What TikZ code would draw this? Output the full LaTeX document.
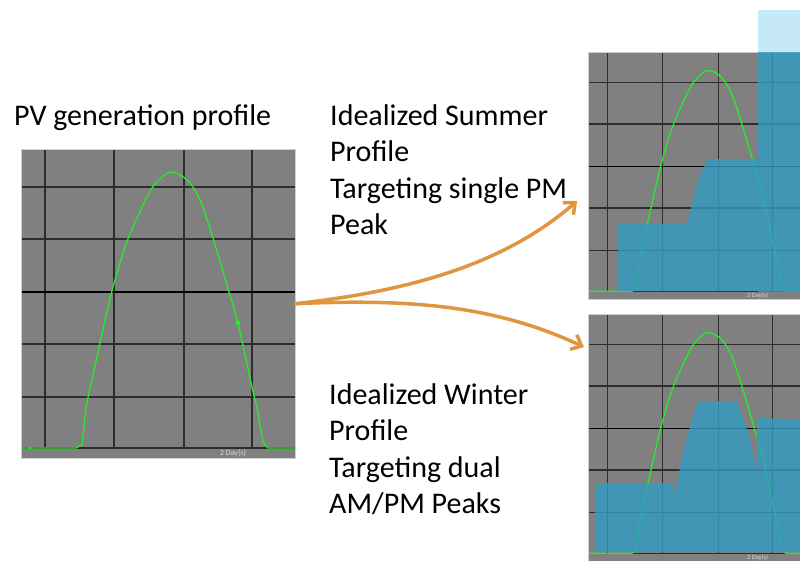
\documentclass[tikz,border=0pt]{standalone}
\usepackage{fontspec}
\setmainfont{Carlito}
\usetikzlibrary{arrows.meta}
\definecolor{chartgray}{RGB}{128,128,128}
\definecolor{gridcol}{RGB}{45,45,45}
\definecolor{pvgreen}{RGB}{40,235,40}
\definecolor{loadblue}{RGB}{49,156,194}
\definecolor{lightload}{RGB}{198,233,248}
\definecolor{flowor}{RGB}{224,150,62}
\definecolor{framecol}{RGB}{205,205,205}
\tikzset{
  gridline/.style={draw=gridcol, line width=1.3pt},
  midline/.style={draw=black, line width=1.3pt},
  pvcurve/.style={draw=pvgreen, line width=1.3pt, line join=round},
  chartframe/.style={draw=framecol, line width=0.8pt},
  daylabel/.style={font=\fontsize{8}{9}\selectfont, text=white!85!black, inner sep=0pt, transform shape},
  loadfill/.style={fill=loadblue, fill opacity=0.8},
  lightfill/.style={fill=lightload},
  flowarrow/.style={draw=flowor, line width=3.5pt, line cap=round, -{Straight Barb[length=9pt,width=16pt]}},
  captext/.style={font=\fontsize{30}{36.6}\selectfont, align=left, inner sep=0pt, anchor=north west},
  chartbox/.style={minimum width=274pt, minimum height=309pt, inner sep=0pt, anchor=north west, transform shape}
}
\newcommand{\pvchartbody}[1]{%
  \fill[chartgray] (0,0) rectangle (274,309);
  \foreach \gx in {24,93,163,231} \draw[gridline] (\gx,0) -- (\gx,299);
  \foreach \gy in {38,90,195,248,299} \draw[gridline] (0,\gy) -- (274,\gy);
  \draw[midline] (0,143) -- (274,143);
  \draw[pvcurve] (0,299) -- (55,299) -- (61,296) -- (65,258) -- plot[smooth, tension=0.55] coordinates {(65,258) (79,194) (92,138) (107,90) (126,48) (136,33) (150,23) (166,31) (179,51) (192,89) (208,143) (217,174) (231,238) (236,258)} -- (242,293) -- (247,299) -- (274,299);
  \fill[pvgreen] (217,174) circle (2.5pt);
  \fill[pvgreen] (9,299) circle (1.8pt);
  \node[daylabel] (#1days) at (212,304.5) {2 Day(s)};
  \draw[chartframe] (0,0) rectangle (274,309);
}
\begin{document}
\begin{tikzpicture}[x=1pt, y=-1pt]
\useasboundingbox (0,0) rectangle (800,560);
\fill[white] (0,0) rectangle (800,560);
\begin{scope}
\clip (0,0) rectangle (800,560);
% left chart
\node[chartbox] (pvchart) at (21,149) {};
\begin{scope}[shift={(21,149)}]
  \pvchartbody{pv}
\end{scope}
% summer chart
\fill[lightfill] (758,10) rectangle (800,52);
\begin{scope}[shift={(588,52)}, scale=0.8]
  \node[chartbox] (summerchart) at (0,0) {};
  \pvchartbody{summer}
\end{scope}
\fill[loadfill] (618,291) -- (618,224) -- (687,224) -- (698,180) -- (708,159) -- (758,159) -- (758,52) -- (800,52) -- (800,292) -- (758,292) -- (758,291) -- cycle;
% winter chart
\begin{scope}[shift={(588,314)}, scale=0.8]
  \node[chartbox] (winterchart) at (0,0) {};
  \pvchartbody{winter}
\end{scope}
\fill[loadfill] (595,552) -- (595,483) -- (673,483) -- (675,497) -- (681,462) -- (687,437) -- (698,401) -- (737,401) -- (748,432) -- (757,470) -- (757,418) -- (800,419) -- (800,552) -- cycle;
\end{scope}
% texts
\node[captext] (pvtitle) at (14,104) {PV generation profile};
\node[captext] (summertext) at (330,104) {Idealized Summer\\Profile\\Targeting single PM\\Peak};
\node[captext] (wintertext) at (329,383) {Idealized Winter\\Profile\\Targeting dual\\AM/PM Peaks};
% arrows
\coordinate (sumtip) at (577,201);
\coordinate (wintip) at (584,347);
\draw[flowarrow] (pvchart.east) .. controls (400,292) and (500,268) .. (sumtip);
\draw[flowarrow] (pvchart.east) .. controls (420,298) and (500,308) .. (wintip);
\end{tikzpicture}
\end{document}
